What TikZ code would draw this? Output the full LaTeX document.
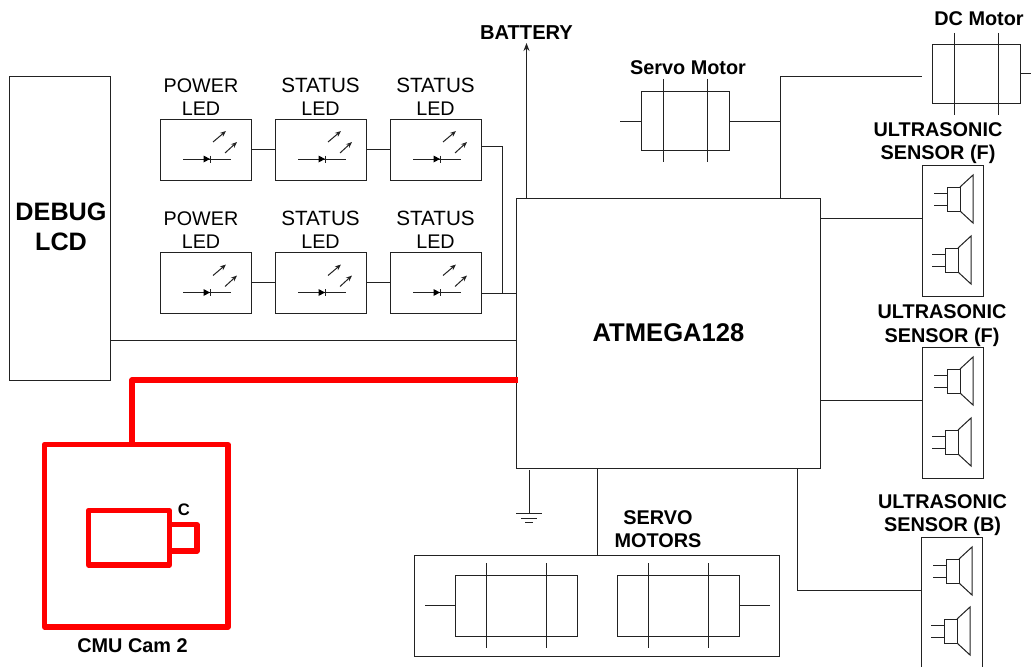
\documentclass[tikz,border=0pt]{standalone}
\usepackage{fontspec}
\setmainfont{Liberation Sans}
\usetikzlibrary{calc,arrows.meta}
\definecolor{ln}{HTML}{222222}
\definecolor{redl}{HTML}{FF0000}
\newcommand{\mybox}[6][boxn]{%
  \pgfmathsetmacro{\bw}{(#5-#3)*0.75}\pgfmathsetmacro{\bh}{(#6-#4)*0.75}%
  \node[#1,minimum width=\bw pt,minimum height=\bh pt] (#2) at ({(#3+#5)/2},{(#4+#6)/2}) {};}
\newcommand{\stat}{{\fontsize{15.5pt}{17.3pt}\selectfont STATUS}}
\tikzset{
  boxn/.style={draw=ln,line width=0.75pt,inner sep=0pt,outer sep=0pt,rectangle},
  redbox/.style={draw=redl,line width=3.9pt,line join=round,inner sep=0pt,outer sep=0pt,rectangle},
  wire/.style={draw=ln,line width=0.75pt},
  redwire/.style={draw=redl,line width=3.9pt,line join=round},
  lab/.style={font=\fontsize{14.8pt}{17.3pt}\selectfont,align=center,inner sep=0pt,text=black},
  blab/.style={lab,font=\fontsize{14.9pt}{17.6pt}\selectfont\bfseries},
  pics/ledsym/.style={code={
    \draw[wire] (23,40) -- (71,40);
    \fill[black] (43.5,36.5) -- (50,40) -- (43.5,43.5) -- cycle;
    \draw[wire] (50.5,36.5) -- (50.5,43.5);
    \draw[wire,-{Stealth[length=4.5pt,width=3.6pt]}] (53,23) -- (66,12);
    \draw[wire,-{Stealth[length=4.5pt,width=3.6pt]}] (65,34) -- (77,23);
  }},
  pics/spk/.style={code={
    \draw[wire] (0,6) -- (13,6) (0,18) -- (13,18);
    \draw[wire] (13,0) rectangle (26,24);
    \draw[wire] (26,0) -- (39,-12) -- (39,36) -- (26,24);
  }},
  pics/mot/.style={code={
    \draw[wire] (0,-42) -- (0,43) (60,-42) -- (60,43);
  }}
}
\begin{document}
\begin{tikzpicture}[x=0.75pt,y=-0.75pt]
\useasboundingbox (0,0) rectangle (1031,667);
\clip (0,0) rectangle (1031,667);
\fill[white] (0,0) rectangle (1031,667);

% main blocks
\mybox{lcd}{9.5}{77}{110.5}{380}
\mybox{atm}{516.5}{198}{820}{468}
\node[font=\fontsize{18.9pt}{22.5pt}\selectfont\bfseries,align=center,inner sep=0pt] (lcdt) at (61,227) {DEBUG\\LCD};
\node[font=\fontsize{19.2pt}{22pt}\selectfont\bfseries,inner sep=0pt] (atmt) at (668.5,333) {ATMEGA128};

% LED rows
\mybox{la}{160}{119}{251.5}{180}
\mybox{lb}{275}{119}{366}{180}
\mybox{lc}{390}{119}{481}{180}
\mybox{ld}{160}{252}{251.5}{313}
\mybox{le}{275}{252}{366}{313}
\mybox{lf}{390}{252}{481}{313}
\pic at (160,119) {ledsym}; \pic at (275,119) {ledsym}; \pic at (390,119) {ledsym};
\pic at (160,252.5) {ledsym}; \pic at (275,252.5) {ledsym}; \pic at (390,252.5) {ledsym};
\node[lab] (ta) at (201,97) {POWER\\LED};
\node[lab] (tb) at (320.5,97) {\stat\\LED};
\node[lab] (tc) at (435.5,97) {\stat\\LED};
\node[lab] (td) at (201,230) {POWER\\LED};
\node[lab] (te) at (320.5,230) {\stat\\LED};
\node[lab] (tf) at (435.5,230) {\stat\\LED};
\draw[wire] (la) -- (lb);
\draw[wire] (lb) -- (lc);
\draw[wire] (ld) -- (le);
\draw[wire] (le) -- (lf);
\coordinate (ja) at (502,146);
\coordinate (jb) at (481,293);
\draw[wire] (lc.east |- ja) -- (ja) -- (ja |- jb);
\draw[wire] (jb) -- (jb -| atm.west);

% LCD link
\coordinate (jc) at (110.5,340);
\draw[wire] (jc) -- (jc -| atm.west);

% Battery
\coordinate (jd) at (526.5,198);
\coordinate (je) at (526.5,43);
\node[blab,font=\fontsize{15.1pt}{17.6pt}\selectfont\bfseries] (bat) at (526.5,33) {BATTERY};
\draw[wire,-{Stealth[length=6pt,width=4.5pt]}] (jd) -- (je);

% Servo motor
\mybox{sm}{641.5}{91.5}{729.5}{150}
\draw[wire] (663.5,79) -- (663.5,162) (707.5,79) -- (707.5,162);
\node[blab] (smt) at (688,68) {Servo Motor};

% DC motor
\mybox{dc}{932.5}{45}{1020}{103}
\draw[wire] (954,33) -- (954,115) (998,33) -- (998,115);
\node[blab] (dct) at (979,19) {DC Motor};
\coordinate (jf) at (780,198);
\coordinate (jg) at (780,76.5);
\coordinate (jh) at (922,76.5);
\draw[wire] (jf) -- (jg) -- (jh);
\coordinate (ji) at (780,121);
\coordinate (jj) at (620,121);
\draw[wire] (sm.east |- ji) -- (ji);
\draw[wire] (jj) -- (sm.west |- jj);
\coordinate (jk) at (1031,74);
\draw[wire] (dc.east |- jk) -- (jk);

% Ultrasonic sensors
\mybox{ua}{922}{165}{983}{296}
\mybox{ub}{922}{347}{983}{478}
\mybox{uc}{921.5}{537}{982}{680}
\pic at (934,187) {spk}; \pic at (932,248) {spk};
\pic at (934,369) {spk}; \pic at (932,430) {spk};
\pic at (933,559) {spk}; \pic at (931,619) {spk};
\node[blab] (uat) at (938,143) {ULTRASONIC\\SENSOR (F)};
\node[blab] (ubt) at (942,325.5) {ULTRASONIC\\SENSOR (F)};
\node[blab] (uct) at (942.5,515) {ULTRASONIC\\SENSOR (B)};
\coordinate (jl) at (820,218);
\draw[wire] (jl) -- (jl -| ua.west);
\coordinate (jm) at (820,400);
\draw[wire] (jm) -- (jm -| ub.west);
\coordinate (jn) at (797,468);
\coordinate (jo) at (797,590);
\draw[wire] (jn) -- (jo) -- (jo -| uc.west);

% Servo motors block
\mybox{sv}{414.5}{555}{779.5}{656}
\mybox{ma}{455}{575}{577}{636}
\mybox{mb}{617.5}{575}{739.5}{636}
\pic at (486,605) {mot};
\pic at (648,605) {mot};
\coordinate (jp) at (425,605);
\coordinate (jq) at (770,605);
\draw[wire] (jp) -- (ma.west |- jp);
\draw[wire] (mb.east |- jq) -- (jq);
\node[blab] (svt) at (658,529) {SERVO\\MOTORS};
\coordinate (jr) at (597.5,468);
\draw[wire] (jr) -- (jr |- sv.north);

% Ground
\coordinate (js) at (529,470);
\coordinate (jt) at (529,513);
\draw[wire] (js) -- (jt);
\draw[wire] (516,513) -- (542,513) (521,518) -- (537,518) (525,522) -- (533,522);

% CMU Cam (red)
\mybox[redbox]{cmu}{44.5}{444.5}{228}{627}
\mybox[redbox]{cam}{88.5}{510.5}{169.5}{565}
\mybox[redbox]{lens}{169.5}{524.5}{197}{551}
\node[font=\fontsize{12.5pt}{14pt}\selectfont\bfseries,inner sep=0pt] (ct) at (184,510) {C};
\node[blab] (cmt) at (132.5,646) {CMU Cam 2};
\coordinate (ju) at (518,380);
\coordinate (jv) at (132,380);
\draw[redwire] (ju) -- (jv) -- (jv |- cmu.north);
\end{tikzpicture}
\end{document}
